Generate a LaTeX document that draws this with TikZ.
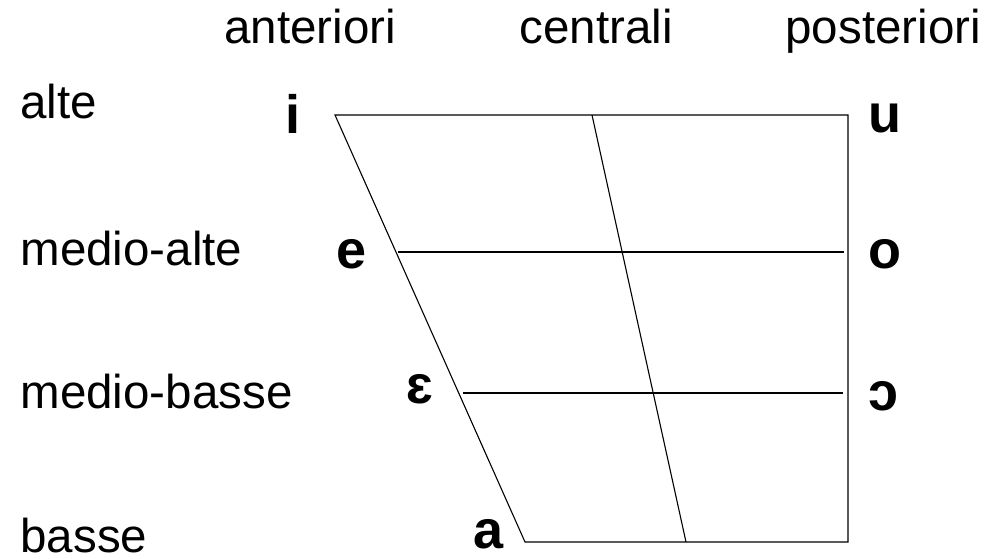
\documentclass[tikz,border=0pt]{standalone}
\usepackage{fontspec}
\setmainfont{Liberation Sans}
\usetikzlibrary{positioning}

\begin{document}
\begin{tikzpicture}[x=1pt,y=-1pt,line width=1.1pt,
    lbl/.style={anchor=base west,inner sep=0pt,text depth=0pt,font=\fontsize{47.5}{57}\selectfont},
    vow/.style={anchor=base west,inner sep=0pt,text depth=0pt,font=\bfseries\fontsize{54}{64}\selectfont}]
  \useasboundingbox (0,0) rectangle (987,559);
  % column and row labels
  \node[lbl] (ant) at (224,44) {anteriori};
  \node[lbl] (cen) at (519,44) {centrali};
  \node[lbl] (pos) at (785,44) {posteriori};
  \node[lbl] (alte) at (20,118) {alte};
  \node[lbl] (malte) at (20,265) {medio-alte};
  \node[lbl] (mbasse) at (20,408) {medio-basse};
  \node[lbl] (basse) at (20,552) {basse};
  % vowels
  \node[vow] (vi) at (285,133) {i};
  \node[vow] (ve) at (336,268) {e};
  \node[vow] (veps) at (406,403) {ɛ};
  \node[vow] (va) at (473,548) {a};
  \node[vow] (vu) at (868,132) {u};
  \node[vow] (vo) at (868,268) {o};
  \node[vow] (vopen) at (868,410) {ɔ};
  % trapezium
  \coordinate (tl) at (335,115);
  \coordinate (tr) at (848,115);
  \coordinate (br) at (848,542);
  \coordinate (bl) at (525,542);
  \coordinate (ml1) at (398,252);
  \coordinate (mr1) at (844,252);
  \coordinate (ml2) at (463,393);
  \coordinate (mr2) at (843,393);
  \coordinate (ct) at (592,115);
  \coordinate (cb) at (686,542);
  \draw (tl) -- (tr) -- (br) -- (bl) -- cycle;
  \draw (ml1) -- (mr1);
  \draw (ml2) -- (mr2);
  \draw (ct) -- (cb);
\end{tikzpicture}
\end{document}
